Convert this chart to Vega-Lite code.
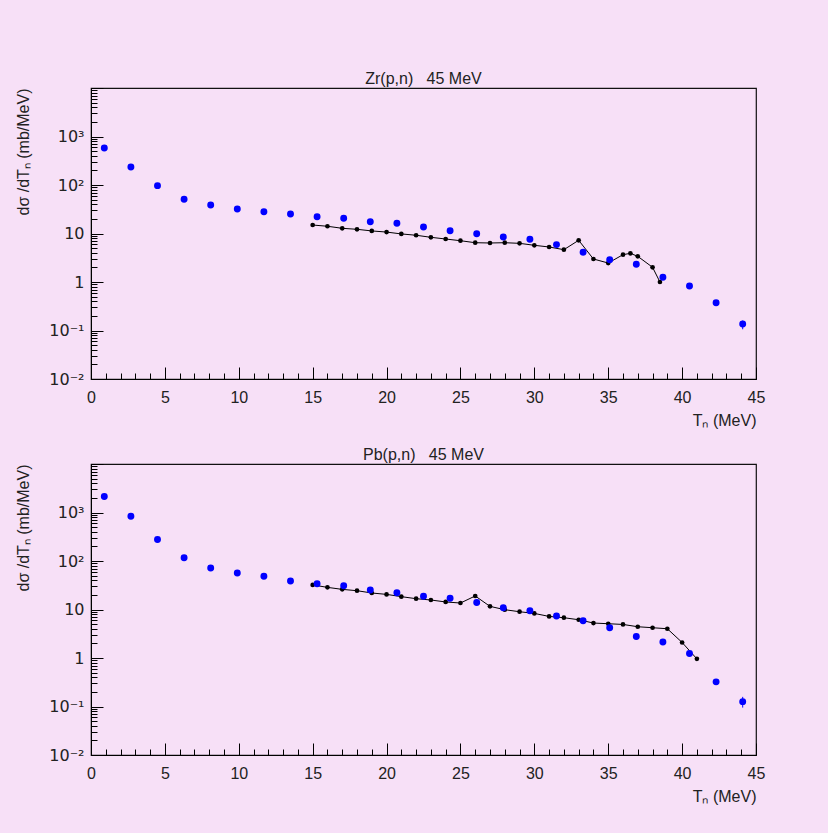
{
  "$schema": "https://vega.github.io/schema/vega-lite/v6.json",
  "background": "#f7e0f7",
  "padding": {"left": 15, "top": 70, "right": 70, "bottom": 28},
  "spacing": 17,
  "datasets": {
    "zr_exp": [
      {"T": 0.9, "v": 580}, {"T": 2.7, "v": 235}, {"T": 4.5, "v": 97}, {"T": 6.3, "v": 51},
      {"T": 8.1, "v": 38.7}, {"T": 9.9, "v": 32}, {"T": 11.7, "v": 28}, {"T": 13.5, "v": 25.2},
      {"T": 15.3, "v": 22.2}, {"T": 17.1, "v": 20.6}, {"T": 18.9, "v": 17.5}, {"T": 20.7, "v": 16.2},
      {"T": 22.5, "v": 13.6}, {"T": 24.3, "v": 11.4}, {"T": 26.1, "v": 9.9}, {"T": 27.9, "v": 8.5},
      {"T": 29.7, "v": 7.6}, {"T": 31.5, "v": 5.9}, {"T": 33.3, "v": 4.1}, {"T": 35.1, "v": 2.88},
      {"T": 36.9, "v": 2.32}, {"T": 38.7, "v": 1.25}, {"T": 40.5, "v": 0.83}, {"T": 42.3, "v": 0.374},
      {"T": 44.1, "v": 0.136, "lo": 0.106, "hi": 0.16}
    ],
    "zr_calc": [
      {"T": 15, "v": 14.96}, {"T": 16, "v": 14.1}, {"T": 17, "v": 12.8}, {"T": 18, "v": 12.2},
      {"T": 19, "v": 11.3}, {"T": 20, "v": 10.7}, {"T": 21, "v": 9.8}, {"T": 22, "v": 9.2},
      {"T": 23, "v": 8.35}, {"T": 24, "v": 7.7}, {"T": 25, "v": 7.1}, {"T": 26, "v": 6.46},
      {"T": 27, "v": 6.37}, {"T": 28, "v": 6.46}, {"T": 29, "v": 6.27}, {"T": 30, "v": 5.71},
      {"T": 31, "v": 5.27}, {"T": 32, "v": 4.64}, {"T": 33, "v": 7.24}, {"T": 34, "v": 2.98},
      {"T": 35, "v": 2.46}, {"T": 36, "v": 3.66}, {"T": 36.5, "v": 3.9}, {"T": 37, "v": 3.38},
      {"T": 38, "v": 2.01}, {"T": 38.5, "v": 1.0}
    ],
    "pb_exp": [
      {"T": 0.9, "v": 2140}, {"T": 2.7, "v": 840}, {"T": 4.5, "v": 277}, {"T": 6.3, "v": 117},
      {"T": 8.1, "v": 72}, {"T": 9.9, "v": 56.7}, {"T": 11.7, "v": 48.3}, {"T": 13.5, "v": 38.8},
      {"T": 15.3, "v": 34.1}, {"T": 17.1, "v": 31.0}, {"T": 18.9, "v": 25.3}, {"T": 20.7, "v": 22.2},
      {"T": 22.5, "v": 18.7}, {"T": 24.3, "v": 17.0}, {"T": 26.1, "v": 14.0}, {"T": 27.9, "v": 10.9},
      {"T": 29.7, "v": 9.4}, {"T": 31.5, "v": 7.35}, {"T": 33.3, "v": 5.87}, {"T": 35.1, "v": 4.21},
      {"T": 36.9, "v": 2.78}, {"T": 38.7, "v": 2.13}, {"T": 40.5, "v": 1.24}, {"T": 42.3, "v": 0.322},
      {"T": 44.1, "v": 0.126, "lo": 0.095, "hi": 0.158}
    ],
    "pb_calc": [
      {"T": 15, "v": 32.1}, {"T": 16, "v": 28.6}, {"T": 17, "v": 26.0}, {"T": 18, "v": 24.4},
      {"T": 19, "v": 21.9}, {"T": 20, "v": 20.5}, {"T": 21, "v": 18.4}, {"T": 22, "v": 16.7},
      {"T": 23, "v": 15.7}, {"T": 24, "v": 14.3}, {"T": 25, "v": 13.6}, {"T": 26, "v": 19.0},
      {"T": 27, "v": 11.6}, {"T": 28, "v": 9.9}, {"T": 29, "v": 9.0}, {"T": 30, "v": 8.3},
      {"T": 31, "v": 7.2}, {"T": 32, "v": 6.77}, {"T": 33, "v": 6.15}, {"T": 34, "v": 5.26},
      {"T": 35, "v": 5.09}, {"T": 36, "v": 4.92}, {"T": 37, "v": 4.41}, {"T": 38, "v": 4.21},
      {"T": 39, "v": 4.01}, {"T": 40, "v": 2.09}, {"T": 41, "v": 0.96}
    ]
  },
  "vconcat": [
    {
      "width": 665,
      "height": 291,
      "title": {"text": "Zr(p,n)\u00a0\u00a0\u00a045 MeV"},
      "encoding": {
        "x": {"field": "T", "type": "quantitative", "scale": {"domain": [0, 45], "nice": false, "zero": false}, "axis": {"title": "Tₙ (MeV)", "labelOverlap": false, "tickCount": 46, "format": "d"}},
        "y": {"field": "v", "type": "quantitative", "scale": {"type": "log", "domain": [0.01, 10000], "nice": false}, "axis": {"title": "dσ /dTₙ (mb/MeV)", "labelOverlap": false}}
      },
      "layer": [
        {"data": {"name": "zr_calc"}, "mark": {"type": "line", "color": "#000000", "strokeWidth": 1, "point": {"filled": true, "size": 22, "color": "#000000"}}},
        {"data": {"name": "zr_exp"}, "transform": [{"filter": "isValid(datum.lo)"}], "mark": {"type": "rule", "color": "#0000ff", "strokeWidth": 1}, "encoding": {"y": {"field": "lo", "type": "quantitative"}, "y2": {"field": "hi"}}},
        {"data": {"name": "zr_exp"}, "mark": {"type": "point", "filled": true, "size": 48, "color": "#0000ff", "opacity": 1}}
      ]
    },
    {
      "width": 665,
      "height": 291,
      "title": {"text": "Pb(p,n)\u00a0\u00a0\u00a045 MeV"},
      "encoding": {
        "x": {"field": "T", "type": "quantitative", "scale": {"domain": [0, 45], "nice": false, "zero": false}, "axis": {"title": "Tₙ (MeV)", "labelOverlap": false, "tickCount": 46, "format": "d"}},
        "y": {"field": "v", "type": "quantitative", "scale": {"type": "log", "domain": [0.01, 10000], "nice": false}, "axis": {"title": "dσ /dTₙ (mb/MeV)", "labelOverlap": false}}
      },
      "layer": [
        {"data": {"name": "pb_calc"}, "mark": {"type": "line", "color": "#000000", "strokeWidth": 1, "point": {"filled": true, "size": 22, "color": "#000000"}}},
        {"data": {"name": "pb_exp"}, "transform": [{"filter": "isValid(datum.lo)"}], "mark": {"type": "rule", "color": "#0000ff", "strokeWidth": 1}, "encoding": {"y": {"field": "lo", "type": "quantitative"}, "y2": {"field": "hi"}}},
        {"data": {"name": "pb_exp"}, "mark": {"type": "point", "filled": true, "size": 48, "color": "#0000ff", "opacity": 1}}
      ]
    }
  ],
  "config": {
    "view": {"stroke": "#111111", "strokeWidth": 1.2, "fill": null},
    "title": {"font": "Liberation Sans", "fontSize": 16, "fontWeight": "normal", "color": "#222222", "anchor": "middle", "offset": -7},
    "axis": {
      "grid": false,
      "labelFont": "Liberation Sans",
      "labelFontSize": 16,
      "labelColor": "#222222",
      "titleFont": "Liberation Sans",
      "titleFontSize": 16,
      "titleFontWeight": "normal",
      "titleColor": "#222222",
      "domainColor": "#000000",
      "tickColor": "#000000",
      "labelFlush": false,
      "labelOverlap": false
    },
    "axisX": {
      "values": [0,1,2,3,4,5,6,7,8,9,10,11,12,13,14,15,16,17,18,19,20,21,22,23,24,25,26,27,28,29,30,31,32,33,34,35,36,37,38,39,40,41,42,43,44,45],
      "labelExpr": "datum.value % 5 == 0 ? datum.label : ''",
      "tickSize": {"condition": {"test": "datum.value % 5 == 0", "value": -12}, "value": -6},
      "labelPadding": 22,
      "titleAnchor": "end",
      "titlePadding": 1
    },
    "axisY": {
      "values": [0.01,0.02,0.03,0.04,0.05,0.06,0.07,0.08,0.09,0.1,0.2,0.3,0.4,0.5,0.6,0.7,0.8,0.9,1,2,3,4,5,6,7,8,9,10,20,30,40,50,60,70,80,90,100,200,300,400,500,600,700,800,900,1000,2000,3000,4000,5000,6000,7000,8000,9000,10000],
      "labelExpr": "datum.value == 0.01 ? '10⁻²' : datum.value == 0.1 ? '10⁻¹' : datum.value == 1 ? '1' : datum.value == 10 ? '10' : datum.value == 100 ? '10²' : datum.value == 1000 ? '10³' : ''",
      "labelFont": "DejaVu Sans",
      "labelFontSize": 16,
      "tickSize": {"condition": {"test": "abs(log(datum.value)/LN10 - round(log(datum.value)/LN10)) < 0.001", "value": -12}, "value": -6},
      "labelPadding": 19,
      "titleAnchor": "end",
      "titlePadding": 17
    }
  }
}
